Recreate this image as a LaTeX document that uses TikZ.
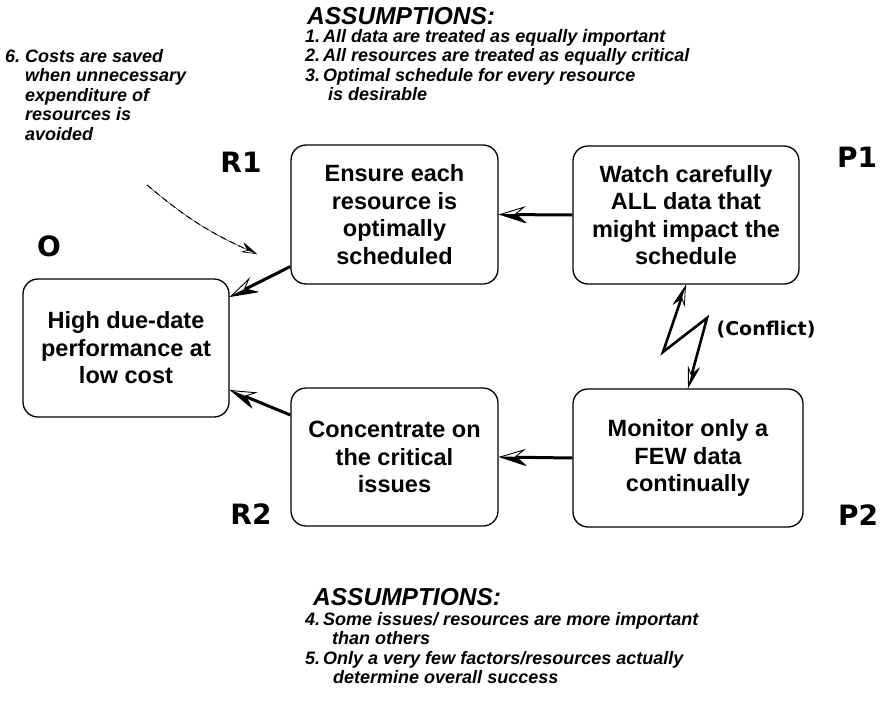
\documentclass[tikz,border=0pt]{standalone}
\usepackage{fontspec}
\setmainfont{Liberation Sans}
\newfontfamily\heavyfont{DejaVu Sans}
\usetikzlibrary{arrows.meta,calc}

\begin{document}
\begin{tikzpicture}[x=1pt,y=-1pt,
  cloudbox/.style={draw, line width=1.3pt, rounded corners=15pt, align=center,
    inner sep=0pt, font=\fontsize{23.5}{27.5}\selectfont\bfseries},
  tag/.style={font=\heavyfont\fontsize{28}{30}\selectfont\bfseries, inner sep=0pt},
  note/.style={font=\fontsize{18}{19.5}\selectfont\bfseries\itshape, align=left, inner sep=0pt},
  head/.style={font=\fontsize{24.5}{28}\selectfont\bfseries\itshape, inner sep=0pt},
  % half-open arrow head: white outline with one solid barb
  openhead/.style={-{Stealth[open, fill=white, length=27pt, width=17pt, inset=10pt, line width=0.9pt]}},
  solidhalf/.style={-{Stealth[harpoon, length=27pt, width=17pt, inset=10pt, line width=0.9pt]}},
  link/.style={line width=3pt, solidhalf, preaction={draw, openhead}},
]
\useasboundingbox (0,0) rectangle (882,701);

% the five entities of the cloud
\node[cloudbox, minimum width=206pt, minimum height=138pt] (O)  at (126,348)   {High due-date\\performance at\\low cost};
\node[cloudbox, minimum width=207pt, minimum height=139pt] (R1) at (394.5,214.5) {Ensure each\\resource is\\optimally\\scheduled};
\node[cloudbox, minimum width=226pt, minimum height=138pt] (P1) at (686,215)   {Watch carefully\\ALL data that\\might impact the\\schedule};
\node[cloudbox, minimum width=207pt, minimum height=138pt] (R2) at (394.5,457)   {Concentrate on\\the critical\\issues};
\node[cloudbox, minimum width=230pt, minimum height=138pt] (P2) at (688,458)   {Monitor only a\\FEW data\\continually};

% entity tags
\node[tag] (tO)  at (49,246)  {O};
\node[tag] (tR1) at (241,162) {R1};
\node[tag] (tP1) at (857,157) {P1};
\node[tag] (tR2) at (251,514) {R2};
\node[tag] (tP2) at (858,515) {P2};

% necessity arrows
\draw[link] (P1.west) -- (R1.east);
\draw[link] (P2.west) -- (R2.east);
\draw[link] ([yshift=-52pt]R1.west) -- ([yshift=51pt]O.east);
\draw[link] ([yshift=42pt]R2.west) -- ([yshift=-42pt]O.east);

% conflict bolt
\coordinate (b1) at (663,352);
\coordinate (b2) at (707,318);
\draw[line width=2.6pt,
  {Stealth[harpoon, length=22pt, width=12pt, inset=8pt, line width=0.8pt]}-{Stealth[harpoon, length=22pt, width=12pt, inset=8pt, line width=0.8pt]},
  preaction={draw, {Stealth[open, fill=white, length=22pt, width=12pt, inset=8pt, line width=0.8pt]}-{Stealth[open, fill=white, length=22pt, width=12pt, inset=8pt, line width=0.8pt]}}]
  (P1.south) -- (b1) -- (b2) -- (P2.north);
\node[font=\heavyfont\fontsize{19}{22}\selectfont\bfseries, inner sep=0pt] (conf) at (766,330) {(Conflict)};

% assumptions above
\node[head, anchor=base west] (ha) at (307,25) {ASSUMPTIONS:};
\node[note, anchor=north west] (la) at (305,29)
  {\makebox[18pt][l]{1.}All data are treated as equally important\\
   \makebox[18pt][l]{2.}All resources are treated as equally critical\\
   \makebox[18pt][l]{3.}Optimal schedule for every resource\\
   \hspace*{23pt}is desirable};

% assumptions below
\node[head, anchor=base west] (hb) at (313,605) {ASSUMPTIONS:};
\node[note, anchor=north west] (lb) at (305,612)
  {\makebox[18pt][l]{4.}Some issues/ resources are more important\\
   \hspace*{27pt}than others\\
   \makebox[18pt][l]{5.}Only a very few factors/resources actually\\
   \hspace*{28pt}determine overall success};

% assumption on the objective link
\node[note, anchor=north west] (lc) at (5,49)
  {\makebox[20pt][l]{6.}Costs are saved\\
   \hspace*{20pt}when unnecessary\\
   \hspace*{20pt}expenditure of\\
   \hspace*{20pt}resources is\\
   \hspace*{20pt}avoided};
\coordinate (ds) at (147,185);
\coordinate (de) at (257,254);
\draw[line width=1pt, dashed, dash pattern=on 6pt off 4pt,
  -{Stealth[harpoon, length=16pt, width=10pt, inset=6pt, line width=0.7pt]},
  preaction={draw, -{Stealth[open, fill=white, length=16pt, width=10pt, inset=6pt, line width=0.7pt]}}]
  (ds) to[bend right=8] (de);
\end{tikzpicture}
\end{document}
